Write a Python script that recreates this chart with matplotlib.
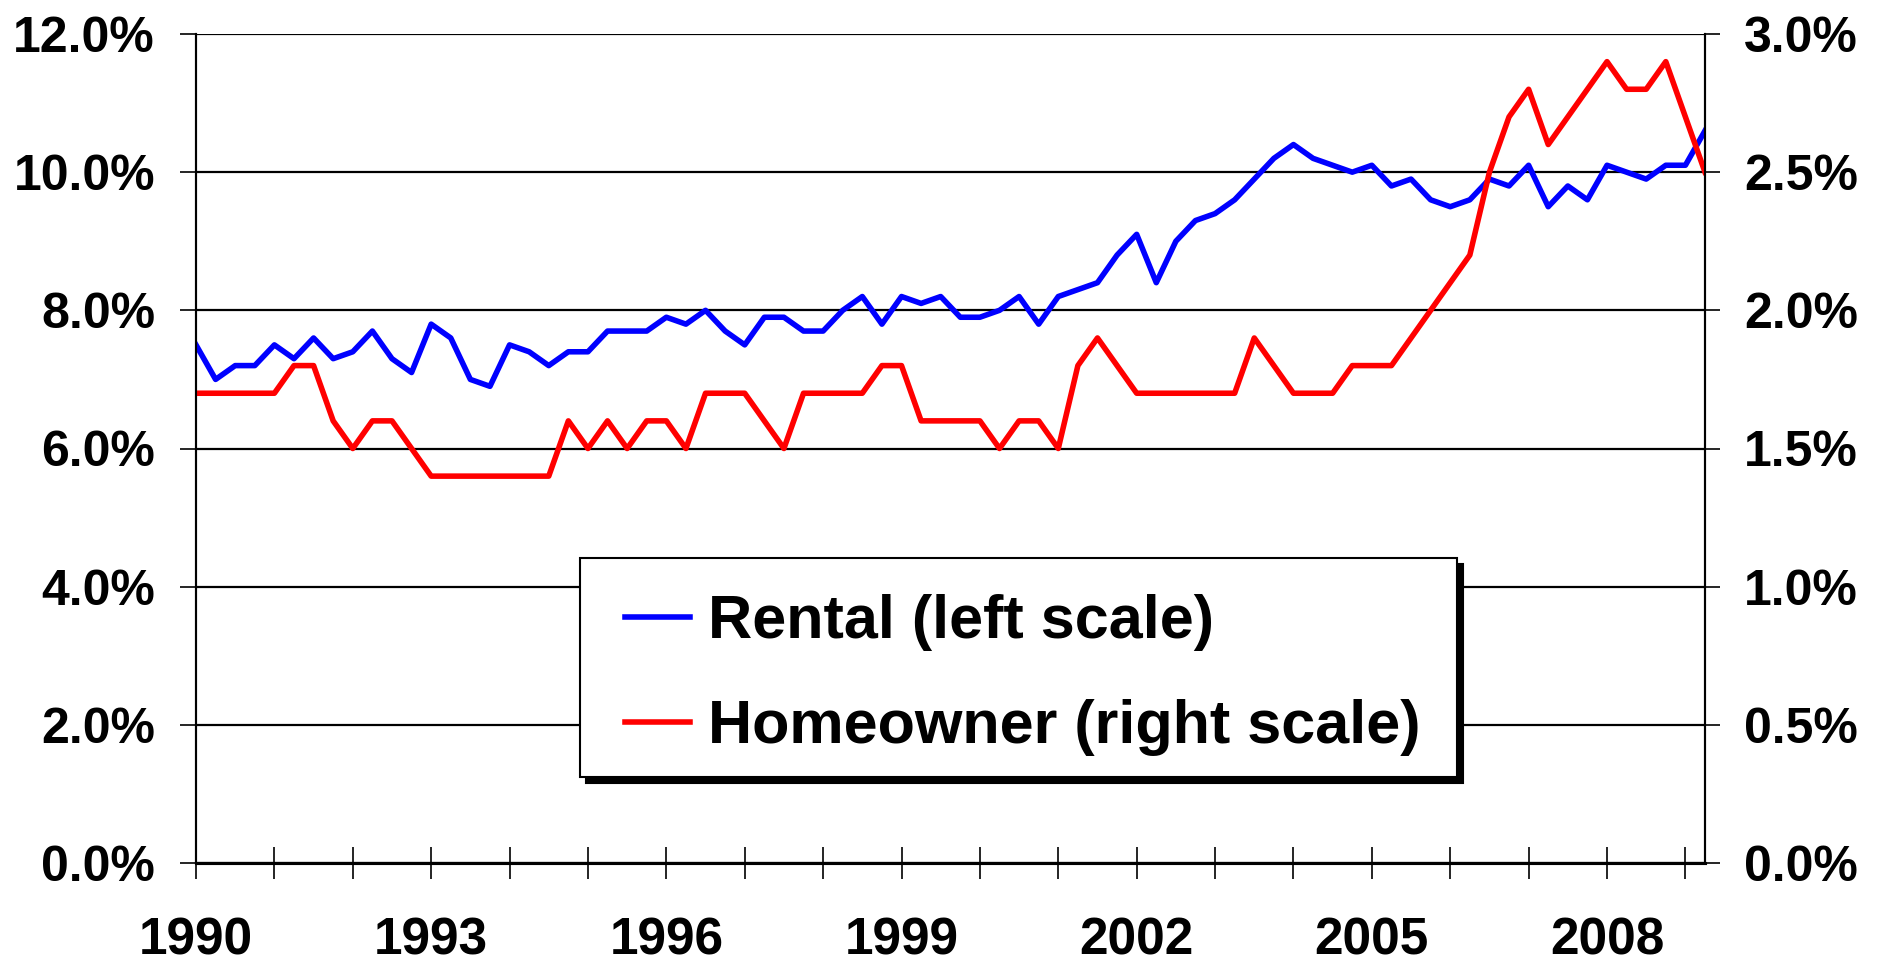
import numpy as np
import matplotlib.pyplot as plt
from matplotlib.patches import Rectangle
from matplotlib.transforms import offset_copy
from matplotlib.ticker import FuncFormatter

plt.rcParams['font.family'] = ['Liberation Sans', 'DejaVu Sans']
plt.rcParams['font.weight'] = 'bold'

# quarterly data, 1990Q1 .. 2009Q2
start_year = 1990
rental = [7.5, 7.0, 7.2, 7.2, 7.5, 7.3, 7.6, 7.3, 7.4, 7.7, 7.3, 7.1, 7.8, 7.6, 7.0, 6.9, 7.5, 7.4, 7.2, 7.4,
          7.4, 7.7, 7.7, 7.7, 7.9, 7.8, 8.0, 7.7, 7.5, 7.9, 7.9, 7.7, 7.7, 8.0, 8.2, 7.8, 8.2, 8.1, 8.2, 7.9,
          7.9, 8.0, 8.2, 7.8, 8.2, 8.3, 8.4, 8.8, 9.1, 8.4, 9.0, 9.3, 9.4, 9.6, 9.9, 10.2, 10.4, 10.2, 10.1, 10.0,
          10.1, 9.8, 9.9, 9.6, 9.5, 9.6, 9.9, 9.8, 10.1, 9.5, 9.8, 9.6, 10.1, 10.0, 9.9, 10.1, 10.1, 10.6]
homeowner = [1.7, 1.7, 1.7, 1.7, 1.7, 1.8, 1.8, 1.6, 1.5, 1.6, 1.6, 1.5, 1.4, 1.4, 1.4, 1.4, 1.4, 1.4, 1.4, 1.6,
             1.5, 1.6, 1.5, 1.6, 1.6, 1.5, 1.7, 1.7, 1.7, 1.6, 1.5, 1.7, 1.7, 1.7, 1.7, 1.8, 1.8, 1.6, 1.6, 1.6,
             1.6, 1.5, 1.6, 1.6, 1.5, 1.8, 1.9, 1.8, 1.7, 1.7, 1.7, 1.7, 1.7, 1.7, 1.9, 1.8, 1.7, 1.7, 1.7, 1.8,
             1.8, 1.8, 1.9, 2.0, 2.1, 2.2, 2.5, 2.7, 2.8, 2.6, 2.7, 2.8, 2.9, 2.8, 2.8, 2.9, 2.7, 2.5]
tick_years = list(range(1990, 2010))
label_years = [1990, 1993, 1996, 1999, 2002, 2005, 2008]
left_ticks = [0, 2, 4, 6, 8, 10, 12]
right_ticks = [0, 0.5, 1.0, 1.5, 2.0, 2.5, 3.0]
labels = ['Rental (left scale)', 'Homeowner (right scale)']

x = start_year + np.arange(len(rental)) / 4

fig = plt.figure(figsize=(18.87, 9.65), dpi=100)
ax = fig.add_axes([196 / 1887, 1 - 863 / 965, (1705 - 196) / 1887, (863 - 34) / 965])
ax2 = ax.twinx()

l1, = ax.plot(x, rental, color='#0000ff', lw=4.0)
l2, = ax2.plot(x, homeowner, color='#ff0000', lw=4.0)

ax.set_xlim(x[0], x[-1])
ax.set_ylim(left_ticks[0], left_ticks[-1])
ax2.set_ylim(right_ticks[0], right_ticks[-1])

# legend box with a hard black drop shadow, like the Excel original
box_xy, box_w, box_h = (0.2545, 0.1037), 0.581, 0.264
shadow_tr = offset_copy(ax2.transAxes, fig=fig, x=4.5, y=-4.5, units='points')
ax2.add_patch(Rectangle(box_xy, box_w, box_h, transform=shadow_tr, facecolor='black',
                        edgecolor='black', lw=1.5, zorder=4.4, clip_on=False))
ax2.add_patch(Rectangle(box_xy, box_w, box_h, transform=ax2.transAxes, facecolor='white',
                        edgecolor='black', lw=1.5, zorder=4.5))

ax.set_xticks(tick_years)
ax.set_xticklabels([str(y) if y in label_years else '' for y in tick_years])
ax.set_yticks(left_ticks)
ax2.set_yticks(right_ticks)
ax.yaxis.set_major_formatter(FuncFormatter(lambda v, p: f'{v:.1f}%'))
ax2.yaxis.set_major_formatter(FuncFormatter(lambda v, p: f'{v:.1f}%'))

ax.yaxis.grid(True, color='black', lw=1.6)
ax.set_axisbelow(True)

for a in (ax, ax2):
    a.spines['top'].set_visible(False)
    a.spines['left'].set_linewidth(1.5)
    a.spines['right'].set_linewidth(1.5)
    a.spines['bottom'].set_linewidth(2.2)

ax.tick_params(axis='x', direction='inout', length=23, width=1.2, pad=27, labelsize=37)
ax.tick_params(axis='y', direction='out', length=11.5, width=1.2, pad=18, labelsize=36)
ax2.tick_params(axis='y', direction='out', length=11, width=1.2, pad=17, labelsize=36)

leg = ax2.legend([l1, l2], labels, loc='center left', bbox_to_anchor=(0.284, 0.2265),
                 prop={'weight': 'bold', 'size': 44}, frameon=False, borderpad=0,
                 borderaxespad=0, handlelength=1.07, handletextpad=0.3, labelspacing=0.78)
leg.set_zorder(6)

fig.savefig('out.png', dpi=100)
